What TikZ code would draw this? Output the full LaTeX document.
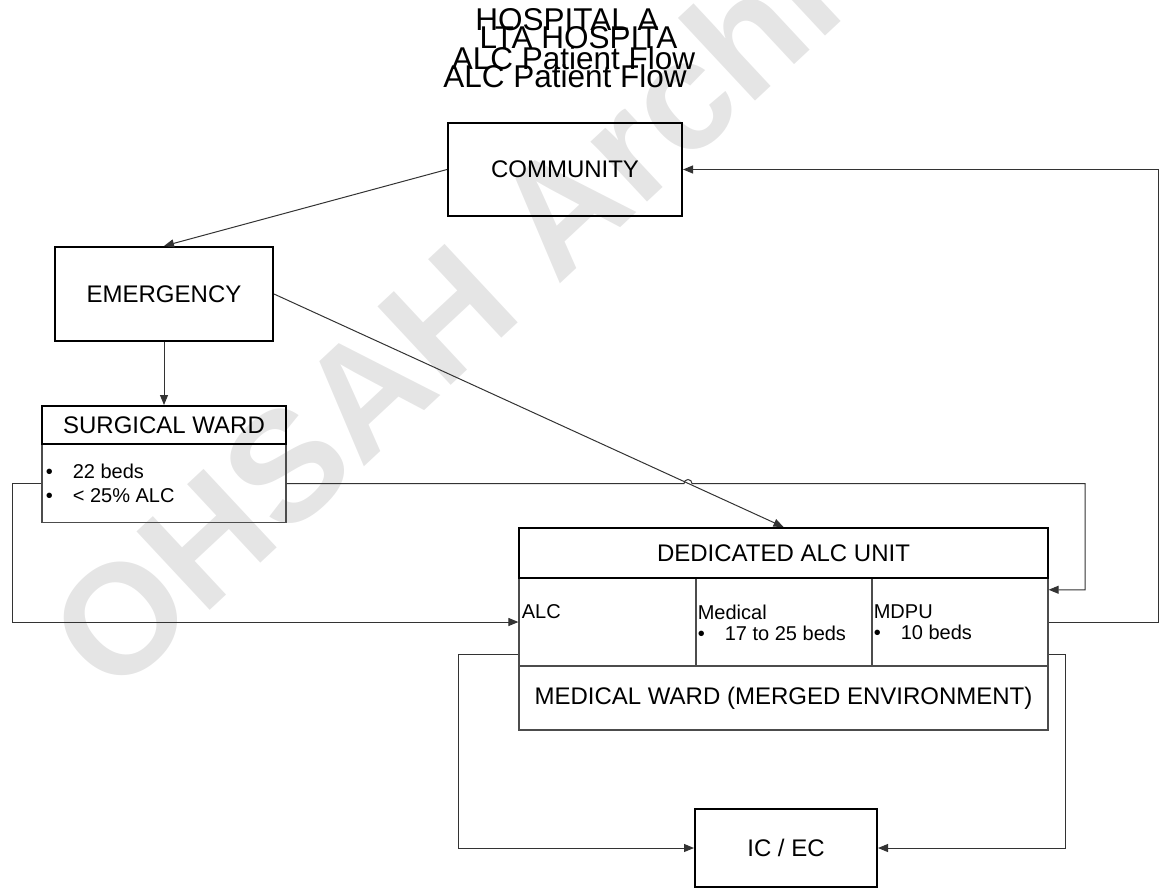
\documentclass[tikz,border=0pt]{standalone}
\usepackage{fontspec}
\setmainfont{Liberation Sans}
\usetikzlibrary{arrows.meta,positioning}
\tikzset{
  box/.style  ={draw,line width=1pt,font=\fontsize{12}{14}\selectfont,inner sep=0pt},
  part/.style ={draw=black!70,line width=0.6pt,font=\fontsize{12}{14}\selectfont,inner sep=0pt},
  txt/.style  ={font=\fontsize{10}{10.5}\selectfont,inner sep=0pt,align=left},
  ttl/.style  ={font=\fontsize{15.75}{17}\selectfont,inner sep=0pt,anchor=base},
  ar/.style   ={-{Triangle[length=5pt,width=4pt]},draw=black!80,line width=0.5pt},
  wmark/.style={font=\fontsize{78}{78}\bfseries\selectfont,text=black!10,rotate=43,inner sep=0pt},
}
\newcommand{\bl}{\makebox[13.5pt][l]{\textbullet}}

\begin{document}
\begin{tikzpicture}[x=0.5pt,y=-0.5pt]
\clip (0,0) rectangle (1160,888);
\node[wmark] (wm) at (507,257) {OHSAH Archive};
% title
\node[ttl] (t1) at (567,31) {HOSPITAL A};
\node[ttl] (t2) at (578.5,48.5) {LTA HOSPITA};
\node[ttl] (t3) at (573.5,70) {ALC Patient Flow};
\node[ttl] (t4) at (565,88) {ALC Patient Flow};
% boxes
\node[box,minimum width=117pt,minimum height=46.5pt] (community) at (565,169.5) {COMMUNITY};
\node[box,minimum width=109pt,minimum height=47pt] (emergency) at (164,294) {EMERGENCY};
\node[part,minimum width=122pt,minimum height=39pt] (surgbody) at (164,483.5) {};
\node[box,minimum width=122pt,minimum height=19pt] (surghead) at (164,425) {SURGICAL WARD};
\node[txt,font=\fontsize{10}{12}\selectfont,right=2pt of surgbody.west] (surgtxt) {\bl 22 beds\\\bl < 25\% ALC};
% dedicated unit
\node[part,minimum width=88.5pt,minimum height=44pt] (alc) at (607.5,622) {};
\node[part,minimum width=88pt,minimum height=44pt] (med) at (784,622) {};
\node[part,minimum width=88pt,minimum height=44pt] (mdpu) at (960,622) {};
\node[part,minimum width=264.5pt,minimum height=32pt] (merged) at (783.5,698) {MEDICAL WARD (MERGED ENVIRONMENT)};
\node[box,minimum width=264.5pt,minimum height=25pt] (dedhead) at (783.5,553) {DEDICATED ALC UNIT};
\node[txt,below right=13.5pt and 1.5pt of alc.north west] (alctxt) {ALC};
\node[txt,below right=13.5pt and 1pt of med.north west] (medtxt) {Medical\\\bl 17 to 25 beds};
\node[txt,below right=13.5pt and 1pt of mdpu.north west] (mdputxt) {MDPU\\\bl 10 beds};
\node[box,minimum width=91pt,minimum height=39pt] (icec) at (786,848) {IC / EC};
% bends
\coordinate (lx) at (12,0);
\coordinate (rx) at (1085,0);
\coordinate (fx) at (1158,0);
\coordinate (blx) at (458,0);
\coordinate (brx) at (1065,0);
\coordinate (hop) at (684,483.5);
% flows
\draw[ar] (community.west) -- (emergency.north);
\draw[ar] (emergency.east) -- (dedhead.north);
\draw[ar] (emergency.south) -- (surghead.north);
\draw[ar] (surgbody.west) -- (lx |- surgbody.west) -- (lx |- alc.west) -- (alc.west);
\draw[ar] (surgbody.east) -- (hop) arc[start angle=180,end angle=0,radius=2pt] -- (rx |- surgbody.east) -- (rx |- mdpu.20) -- (mdpu.20);
\draw[ar] (mdpu.east) -- (fx |- mdpu.east) -- (fx |- community.east) -- (community.east);
\draw[ar] (alc.200) -- (blx |- alc.200) -- (blx |- icec.west) -- (icec.west);
\draw[ar] (mdpu.-20) -- (brx |- mdpu.-20) -- (brx |- icec.east) -- (icec.east);
\end{tikzpicture}
\end{document}
